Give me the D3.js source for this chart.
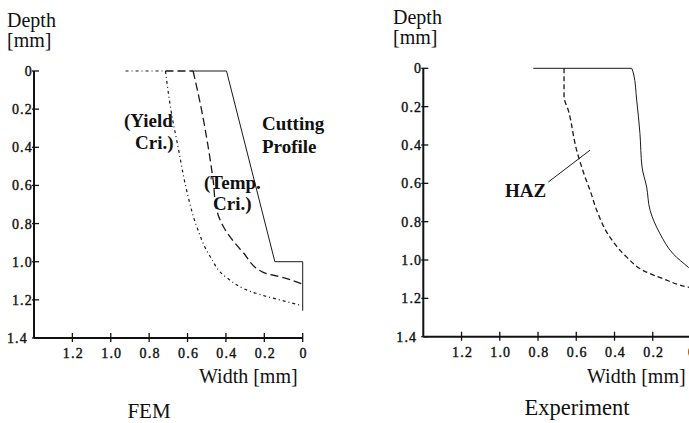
<!DOCTYPE html>
<html>
<head>
<meta charset="utf-8">
<script src="https://d3js.org/d3.v7.min.js"></script>
<style>
body { margin: 0; background: #fff; }
</style>
</head>
<body>
<div id="chart"></div>
<script>
// tick values (mm)
var widthTicks = [1.2, 1.0, 0.8, 0.6, 0.4, 0.2, 0];
var depthTicks = [0, 0.2, 0.4, 0.6, 0.8, 1.0, 1.2, 1.4];

// FEM curves, [width, depth] in mm
var femCutting = [[0.57, 0], [0.397, 0], [0.145, 1.0], [0, 1.0], [0, 1.257]];
var femTemp = [[0.715, 0], [0.571, 0], [0.527, 0.204], [0.493, 0.395], [0.467, 0.57], [0.449, 0.726],
  [0.415, 0.813], [0.31, 0.952], [0.206, 1.056], [0.101, 1.083], [0, 1.118]];
var femYield = [[0.923, 0], [0.715, 0], [0.684, 0.22], [0.65, 0.395], [0.606, 0.62], [0.553, 0.813],
  [0.484, 0.97], [0.397, 1.083], [0.258, 1.161], [0.101, 1.205], [0, 1.231]];

// Experiment curves
var expProfile = [[0.825, 0], [0.31, 0], [0.3, 0.03], [0.284, 0.166], [0.267, 0.34], [0.256, 0.515],
  [0.232, 0.619], [0.214, 0.741], [0.162, 0.863], [0.093, 0.968], [0.014, 1.038], [0, 1.05]];
var expHAZ = [[0.664, 0], [0.664, 0.148], [0.642, 0.218], [0.598, 0.427], [0.554, 0.567], [0.528, 0.636],
  [0.493, 0.741], [0.424, 0.881], [0.336, 0.985], [0.249, 1.055], [0.145, 1.098], [0.014, 1.142], [0, 1.145]];
var hazLeader = [[0.746, 0.593], [0.528, 0.427]];

var serif = "Liberation Serif";

var svg = d3.select("#chart").append("svg")
  .attr("width", 689).attr("height", 423);

function txt(g, x, y, size, s, bold) {
  return g.append("text").attr("x", x).attr("y", y)
    .style("font-family", serif).style("font-size", size + "px")
    .style("font-weight", bold ? "700" : "400").attr("fill", "#111").text(s);
}

function fmt(d) { return d === 0 ? "0" : d.toFixed(1); }

function panel(opt) {
  var x = d3.scaleLinear().domain([1.4, 0]).range([opt.x0, opt.x1]);
  var y = d3.scaleLinear().domain([0, 1.4]).range([opt.y0, opt.y1]);
  var g = svg.append("g");

  // y axis
  g.append("line").attr("x1", x(1.4)).attr("x2", x(1.4)).attr("y1", y(0)).attr("y2", y(1.4))
    .attr("stroke", "#111").attr("stroke-width", 2);
  depthTicks.forEach(function (d) {
    g.append("line").attr("x1", x(1.4) - 2).attr("x2", x(1.4) + 5).attr("y1", y(d)).attr("y2", y(d))
      .attr("stroke", "#111").attr("stroke-width", 1.3);
    txt(g, x(1.4) - (d === 1.4 ? 6 : 1), y(d) + 5, 14, fmt(d))
      .attr("text-anchor", "end").style("letter-spacing", "1.2px")
      .attr("stroke", "#111").attr("stroke-width", 0.4);
  });

  // x axis
  g.append("line").attr("x1", x(1.4)).attr("x2", x(0)).attr("y1", y(1.4)).attr("y2", y(1.4))
    .attr("stroke", "#111").attr("stroke-width", 2);
  widthTicks.forEach(function (d) {
    g.append("line").attr("x1", x(d)).attr("x2", x(d)).attr("y1", y(1.4) - 5).attr("y2", y(1.4) + 4)
      .attr("stroke", "#111").attr("stroke-width", 1.3);
    txt(g, x(d) + 1, y(1.4) + 20, 14, fmt(d))
      .attr("text-anchor", "middle").style("letter-spacing", "1.2px")
      .attr("stroke", "#111").attr("stroke-width", 0.4);
  });

  txt(g, opt.titleX, opt.y0 - 44, 20, "Depth");
  txt(g, opt.titleX, opt.y0 - 24, 20, "[mm]");
  txt(g, opt.wlabelX, 383, 20, "Width [mm]");
  txt(g, opt.nameX, opt.nameY, opt.nameSize, opt.name).attr("text-anchor", "middle");

  function draw(data, curve, width, dash) {
    var line = d3.line().x(function (d) { return x(d[0]); }).y(function (d) { return y(d[1]); });
    var n = 0;
    while (n < data.length && data[n][1] === 0) n++;
    var flat = data.slice(0, n), rest = data.slice(Math.max(n - 1, 0));
    [flat, rest].forEach(function (part) {
      if (part.length < 2) return;
      g.append("path").datum(part).attr("d", line.curve(part === flat ? d3.curveLinear : curve))
        .attr("fill", "none").attr("stroke", "#1a1a1a").attr("stroke-width", width)
        .attr("stroke-dasharray", dash || null);
    });
  }
  return { g: g, x: x, y: y, draw: draw };
}

var fem = panel({ x0: 34, x1: 302.7, y0: 71, y1: 338, titleX: 7, wlabelX: 199, nameX: 149, nameY: 418, nameSize: 21, name: "FEM" });
var exp = panel({ x0: 423.3, x1: 691, y0: 68.3, y1: 336.7, titleX: 393, wlabelX: 587, nameX: 577, nameY: 415, nameSize: 22.5, name: "Experiment" });

fem.draw(femCutting, d3.curveLinear, 1);
fem.draw(femTemp, d3.curveMonotoneY, 1.3, "8,4");
fem.draw(femYield, d3.curveMonotoneY, 1.2, "3,3,1,3");

exp.draw(expProfile, d3.curveMonotoneY, 1);
exp.draw(expHAZ, d3.curveMonotoneY, 1.3, "5,3");
exp.draw(hazLeader, d3.curveLinear, 1);

// annotations
txt(fem.g, 124, 127, 19, "(Yield", true);
txt(fem.g, 135, 149, 19, "Cri.)", true);
txt(fem.g, 262, 130, 19, "Cutting", true);
txt(fem.g, 262, 153, 19, "Profile", true);
txt(fem.g, 204, 189, 19, "(Temp.", true);
txt(fem.g, 213, 210, 19, "Cri.)", true);
txt(exp.g, 505, 197, 19, "HAZ", true);
</script>
</body>
</html>
